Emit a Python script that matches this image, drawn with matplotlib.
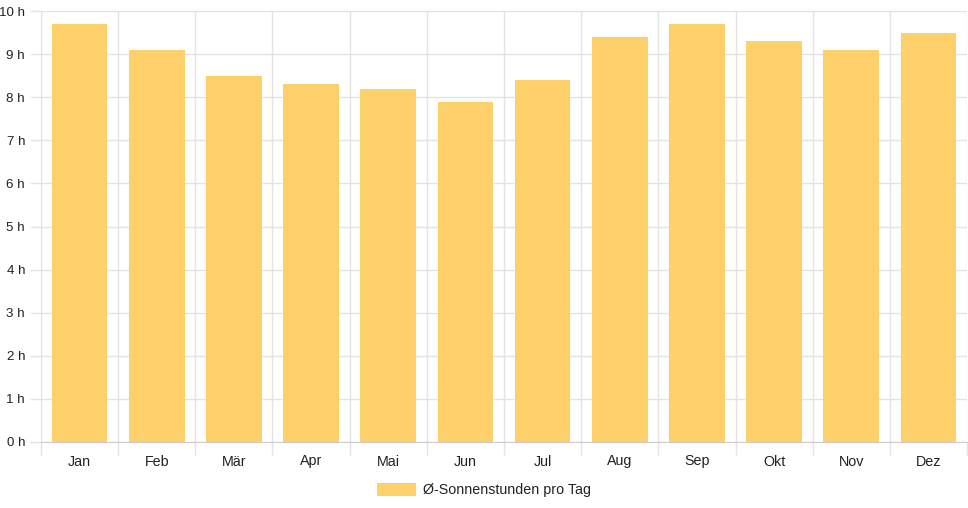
import matplotlib
matplotlib.use("Agg")
import matplotlib.pyplot as plt
import numpy as np

months = ["Jan", "Feb", "Mär", "Apr", "Mai", "Jun", "Jul", "Aug", "Sep", "Okt", "Nov", "Dez"]
sun_hours = [9.7, 9.1, 8.5, 8.3, 8.2, 7.9, 8.4, 9.4, 9.7, 9.3, 9.1, 9.5]
y_ticks = list(range(0, 11))
series_label = "Ø-Sonnenstunden pro Tag"

plt.rcParams['font.family'] = ['Liberation Sans', 'DejaVu Sans']

W, H = 968, 508
fig = plt.figure(figsize=(W / 100, H / 100), dpi=100)
left, right, top, bottom = 41, 967, 11, 442
ax = fig.add_axes([left / W, 1 - bottom / H, (right - left) / W, (bottom - top) / H])

x = np.arange(len(months))
bar_color = "#fed06a"
ax.bar(x, sun_hours, width=0.72, color=bar_color, zorder=2, label=series_label)

ax.set_xlim(-0.5, len(months) - 0.5)
ax.set_ylim(0, 10)
ax.set_yticks(y_ticks)
ax.set_yticklabels([f"{v} h" for v in y_ticks])
ax.set_xticks(x)
ax.set_xticklabels(months)

grid_c = "#e3e3e3"
ax.set_xticks(np.arange(-0.5, len(months), 1), minor=True)
ax.grid(True, which="minor", axis="x", color=grid_c, linewidth=1, zorder=0)
ax.grid(True, which="major", axis="y", color=grid_c, linewidth=1, zorder=0)

for s in ["top", "right"]:
    ax.spines[s].set_visible(False)
ax.spines["left"].set_color(grid_c)
ax.spines["bottom"].set_color("#cccccc")

fs = 10.3
ax.tick_params(axis="x", which="major", length=0, pad=9, labelsize=fs, labelcolor="#222222")
ax.tick_params(axis="x", which="minor", length=9, color=grid_c, width=1)
ax.tick_params(axis="y", which="major", length=8, color=grid_c, width=1, pad=3.5, labelsize=9.6, labelcolor="#222222")

handles, labels = ax.get_legend_handles_labels()
fig.legend(handles, labels, loc="center", bbox_to_anchor=(0.5, 1 - 490 / H),
           frameon=False, fontsize=fs, handlelength=2.7, handleheight=1.05, handletextpad=0.5,
           labelcolor="#222222")

fig.savefig("out.png", dpi=100)
